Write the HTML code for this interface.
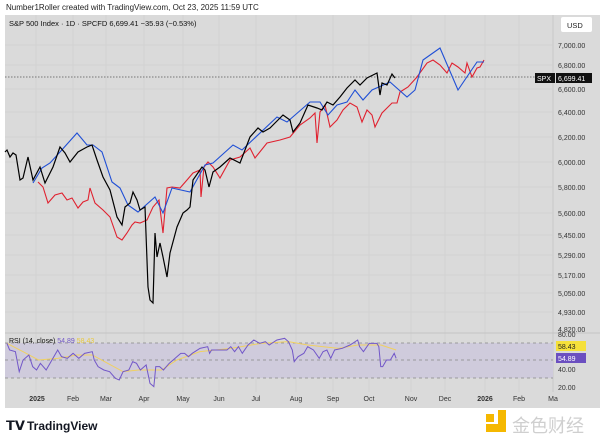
<!DOCTYPE html>
<html><head><meta charset="utf-8"><style>
body{margin:0;width:600px;height:442px;background:#fff;overflow:hidden;font-family:"Liberation Sans",sans-serif;}
svg{position:absolute;left:0;top:0}
</style></head><body>
<svg width="600" height="442" viewBox="0 0 600 442" font-family="Liberation Sans, sans-serif">
<rect x="0" y="0" width="600" height="442" fill="#fff"/>
<text x="6" y="10" font-size="8" fill="#222">Number1Roller created with TradingView.com, Oct 23, 2025 11:59 UTC</text>
<rect x="5" y="15" width="595" height="393" fill="#dadada"/>
<line x1="553" y1="15" x2="553" y2="392" stroke="#c8c8c8"/>
<g stroke="#cfcfcf" stroke-width="0.7">
<line x1="36" y1="15" x2="36" y2="392"/><line x1="73" y1="15" x2="73" y2="392"/><line x1="106" y1="15" x2="106" y2="392"/><line x1="144" y1="15" x2="144" y2="392"/><line x1="183" y1="15" x2="183" y2="392"/><line x1="219" y1="15" x2="219" y2="392"/><line x1="256" y1="15" x2="256" y2="392"/><line x1="296" y1="15" x2="296" y2="392"/><line x1="333" y1="15" x2="333" y2="392"/><line x1="369" y1="15" x2="369" y2="392"/><line x1="411" y1="15" x2="411" y2="392"/><line x1="445" y1="15" x2="445" y2="392"/><line x1="485" y1="15" x2="485" y2="392"/><line x1="519" y1="15" x2="519" y2="392"/>
<line x1="5" y1="45" x2="553" y2="45"/><line x1="5" y1="65" x2="553" y2="65"/><line x1="5" y1="89" x2="553" y2="89"/><line x1="5" y1="112" x2="553" y2="112"/><line x1="5" y1="137" x2="553" y2="137"/><line x1="5" y1="162" x2="553" y2="162"/><line x1="5" y1="187" x2="553" y2="187"/><line x1="5" y1="213" x2="553" y2="213"/><line x1="5" y1="235" x2="553" y2="235"/><line x1="5" y1="255" x2="553" y2="255"/><line x1="5" y1="275" x2="553" y2="275"/><line x1="5" y1="293" x2="553" y2="293"/><line x1="5" y1="312" x2="553" y2="312"/>
</g>
<line x1="5" y1="333" x2="600" y2="333" stroke="#c4c4c4"/>
<!-- RSI band -->
<rect x="5" y="343" width="548" height="35" fill="#cfcbdc"/>
<g stroke="#888" stroke-dasharray="3,3" stroke-width="0.7">
<line x1="5" y1="343" x2="553" y2="343"/><line x1="5" y1="360" x2="553" y2="360"/><line x1="5" y1="378" x2="553" y2="378"/>
</g>
<line x1="5" y1="77" x2="553" y2="77" stroke="#555" stroke-dasharray="1.5,1.5" stroke-width="0.7"/>
<!-- red -->
<polyline fill="none" stroke="#e0212f" stroke-width="1.1" points="38,182 43,187 48,203 55,195 62,193 67,200 72,198 78,208 83,202 88,200 90,188 95,203 103,210 110,217 117,237 122,240 127,233 132,225 135,222 140,223 147,220 153,207 159,200 163,233 167,188 172,187 180,188 187,180 193,173 200,170 201,197 204,167 208,162 213,167 220,178 230,160 240,157 250,148 255,158 267,143 280,140 290,137 300,125 310,118 315,113 317,143 320,112 325,105 330,127 337,120 343,110 350,103 357,107 362,122 367,110 372,115 375,127 382,113 392,103 397,103 400,92 408,87 417,77 427,63 433,60 440,65 447,73 452,63 458,67 465,73 467,63 472,77 477,68 480,67 484,60"/>
<!-- blue -->
<polyline fill="none" stroke="#1f4fd6" stroke-width="1.1" points="33,183 42,168 50,163 60,152 77,133 87,145 93,145 102,152 112,182 120,188 128,205 138,212 155,197 163,213 172,188 190,192 205,165 213,163 233,145 242,150 277,117 287,122 310,102 320,102 328,115 337,105 347,102 355,90 363,100 372,90 390,82 407,97 415,90 423,60 440,48 458,90 477,62 484,62"/>
<!-- black -->
<polyline fill="none" stroke="#000" stroke-width="1.2" points="5,152 7,150 10,157 13,153 16,155 20,180 23,178 28,157 33,180 40,167 45,183 53,167 60,147 65,153 70,162 78,152 87,147 92,145 97,160 103,177 110,190 117,217 122,225 125,207 130,203 133,192 137,200 140,210 145,207 148,287 150,300 153,303 155,233 157,257 160,243 163,257 167,277 170,253 177,227 183,213 187,210 190,207 193,180 202,167 205,170 209,187 213,172 220,167 230,158 240,163 250,137 258,128 263,132 270,128 275,123 283,115 290,120 293,132 300,123 308,105 317,108 322,110 327,102 333,105 340,97 347,88 355,80 360,85 367,78 377,73 380,95 382,83 387,85 392,74 395,78"/>
<!-- RSI -->
<g transform="translate(0,320) scale(0.3846,0.3333)">
<polyline fill="none" stroke="#f0d060" stroke-width="1" vector-effect="non-scaling-stroke" points="18,70 60,95 100,120 150,115 200,105 240,105 280,130 320,155 360,150 420,150 460,120 520,95 600,85 680,70 750,65 800,75 880,85 930,75 990,75 1030,90"/>
<polyline fill="none" stroke="#7257c8" stroke-width="1" vector-effect="non-scaling-stroke" points="18,70 25,90 40,95 50,155 60,120 75,105 85,140 95,150 105,130 120,150 130,130 150,90 160,110 175,115 190,100 205,115 220,100 240,95 245,120 255,140 270,150 285,155 300,175 310,180 320,155 335,150 345,125 355,130 365,150 380,135 390,190 400,200 405,140 415,140 425,150 440,130 455,115 470,100 480,100 490,110 500,100 520,85 540,80 545,100 550,90 560,90 575,90 590,90 600,80 610,95 620,80 630,100 645,75 660,60 675,70 690,65 700,75 720,60 740,55 750,65 760,90 765,125 775,110 790,100 800,80 815,90 830,115 840,95 850,90 860,115 870,90 890,85 910,75 930,60 935,80 945,95 960,70 980,70 985,80 990,140 995,140 1005,120 1015,120 1025,100 1030,115"/>
</g>
<text x="9" y="26" font-size="7.5" fill="#111">S&amp;P 500 Index · 1D · SPCFD  6,699.41  −35.93 (−0.53%)</text>
<text x="9" y="343" font-size="7" fill="#111">RSI (14, close) <tspan fill="#7257c8">54.89</tspan> <tspan fill="#e8c840">58.43</tspan></text>
<rect x="561" y="17" width="31" height="15" rx="2" fill="#fff"/>
<text x="567" y="28" font-size="7.5" fill="#222">USD</text>
<g font-size="7" fill="#333">
<text x="558" y="48">7,000.00</text><text x="558" y="68">6,800.00</text><text x="558" y="92">6,600.00</text><text x="558" y="115">6,400.00</text><text x="558" y="140">6,200.00</text><text x="558" y="165">6,000.00</text><text x="558" y="190">5,800.00</text><text x="558" y="216">5,600.00</text><text x="558" y="238">5,450.00</text><text x="558" y="258">5,290.00</text><text x="558" y="278">5,170.00</text><text x="558" y="296">5,050.00</text><text x="558" y="315">4,930.00</text><text x="558" y="332">4,820.00</text><text x="558" y="337">80.00</text><text x="558" y="372">40.00</text><text x="558" y="390">20.00</text>
</g>
<rect x="535" y="73" width="20" height="10" fill="#111"/><text x="537" y="81" font-size="7" fill="#fff">SPX</text>
<rect x="556" y="73" width="36" height="10" fill="#111"/><text x="558" y="81" font-size="7" fill="#fff">6,699.41</text>
<rect x="556" y="341" width="30" height="10" fill="#f5e03a"/><text x="558" y="349" font-size="7" fill="#222">58.43</text>
<rect x="556" y="353" width="30" height="10" fill="#6b4fc0"/><text x="558" y="361" font-size="7" fill="#fff">54.89</text>
<g font-size="7" fill="#333" text-anchor="middle">
<text x="37" y="401" font-weight="bold">2025</text><text x="73" y="401">Feb</text><text x="106" y="401">Mar</text><text x="144" y="401">Apr</text><text x="183" y="401">May</text><text x="219" y="401">Jun</text><text x="256" y="401">Jul</text><text x="296" y="401">Aug</text><text x="333" y="401">Sep</text><text x="369" y="401">Oct</text><text x="411" y="401">Nov</text><text x="445" y="401">Dec</text><text x="485" y="401" font-weight="bold">2026</text><text x="519" y="401">Feb</text><text x="553" y="401">Ma</text>
</g>
<rect x="0" y="408" width="600" height="34" fill="#fff"/>
<text x="6" y="430" font-size="13" font-weight="bold" fill="#131722">𝗧𝗩</text>
<text x="27" y="430" font-size="12" font-weight="bold" fill="#131722">TradingView</text>
<rect x="486" y="414" width="8" height="8" fill="#f5b800"/><rect x="486" y="424" width="20" height="8" fill="#f5b800"/><rect x="498" y="410" width="8" height="16" fill="#f5b800"/>
<text x="512" y="432" font-size="18" fill="#cfcfcf" font-family="Noto Sans CJK SC, sans-serif">金色财经</text>
</svg>
</body></html>
